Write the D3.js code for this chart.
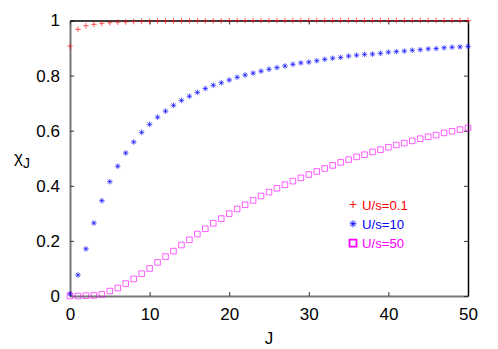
<html>
	<head>
		<meta charset="utf-8">
		<title>chi_J</title>
		<style>
			body { margin: 0; background: #fff; }
			text { font-family: "Liberation Sans", Arial, sans-serif; }
		</style>
	</head>
	<body>
		<div id="chart"></div>
		<script src="https://cdn.jsdelivr.net/npm/d3@7"></script>
		<script>
			var J = [0,1,2,3,4,5,6,7,8,9,10,11,12,13,14,15,16,17,18,19,20,
				21,22,23,24,25,26,27,28,29,30,31,32,33,34,35,36,37,38,39,40,
				41,42,43,44,45,46,47,48,49,50];

			var chiU01 = [0.907,0.968,0.981,0.986,0.990,0.992,0.994,0.995,0.996,0.997,
				0.997,0.998,0.998,0.998,0.999,0.999,0.999,0.999,0.999,0.999,
				1,1,1,1,1,1,1,1,1,1,1,1,1,1,1,1,1,1,1,1,1,1,1,1,1,1,1,1,1,1,1];

			var chiU10 = [0.008,0.076,0.171,0.265,0.346,0.415,0.471,0.519,0.559,0.594,0.623,
				0.649,0.671,0.692,0.710,0.725,0.739,0.753,0.765,0.774,0.784,
				0.794,0.802,0.809,0.816,0.823,0.829,0.835,0.841,0.846,0.849,
				0.854,0.859,0.863,0.866,0.871,0.874,0.877,0.878,0.881,0.885,
				0.887,0.889,0.892,0.894,0.897,0.898,0.901,0.903,0.904,0.906];

			var chiU50 = [0.000,0.000,0.001,0.002,0.006,0.018,0.029,0.045,0.062,0.081,0.100,
				0.122,0.143,0.163,0.185,0.204,0.225,0.244,0.264,0.281,0.299,
				0.316,0.331,0.347,0.363,0.377,0.391,0.404,0.417,0.429,0.441,
				0.452,0.463,0.474,0.485,0.495,0.505,0.513,0.523,0.531,0.540,
				0.548,0.555,0.563,0.571,0.578,0.584,0.592,0.598,0.604,0.610];

			var seriesNames = ["U/s=0.1", "U/s=10", "U/s=50"];
			var xTicks = [0, 10, 20, 30, 40, 50];
			var yTicks = [0, 0.2, 0.4, 0.6, 0.8, 1];

			var w = 498, h = 349;
			var pL = 70, pR = 468, pT = 20.5, pB = 296;

			var x = d3.scaleLinear().domain([0, 50]).range([pL, pR]);
			var y = d3.scaleLinear().domain([0, 1]).range([pB, pT]);

			var svg = d3.select("#chart").append("svg")
				.attr("width", w)
				.attr("height", h);

			// axes with inward ticks on all four sides
			var fmt = d3.format("~g");
			var gl = svg.append("g").attr("transform", "translate(" + pL + ",0)")
				.call(d3.axisLeft(y).tickValues(yTicks).tickFormat(fmt).tickSizeInner(-4).tickSizeOuter(0).tickPadding(10));
			var gb = svg.append("g").attr("transform", "translate(0," + pB + ")")
				.call(d3.axisBottom(x).tickValues(xTicks).tickFormat(fmt).tickSizeInner(-4).tickSizeOuter(0).tickPadding(12));
			var gr = svg.append("g").attr("transform", "translate(" + pR + ",0)")
				.call(d3.axisRight(y).tickValues(yTicks).tickFormat("").tickSizeInner(-4).tickSizeOuter(0));
			var gt = svg.append("g").attr("transform", "translate(0," + pT + ")")
				.call(d3.axisTop(x).tickValues(xTicks).tickFormat("").tickSizeInner(-4).tickSizeOuter(0));

			[gl, gb].forEach(function(g){
				g.select(".domain").attr("stroke", "#777").attr("stroke-width", 2);
				g.selectAll(".tick line").attr("stroke", "#333");
				g.selectAll("text").attr("font-size", 17).attr("fill", "#000")
					.attr("font-family", "Liberation Sans, Arial, sans-serif");
			});
			[gr, gt].forEach(function(g){
				g.select(".domain").attr("stroke", "#000").attr("stroke-width", 1.5);
				g.selectAll(".tick line").attr("stroke", "#333");
			});

			// axis titles
			svg.append("text")
				.attr("x", (pL + pR) / 2)
				.attr("y", 344)
				.attr("text-anchor", "middle")
				.attr("font-size", 17)
				.text("J");

			var yl = svg.append("text")
				.attr("x", 14)
				.attr("y", 163)
				.attr("font-size", 17);
			yl.append("tspan").text("χ");
			yl.append("tspan").attr("dy", 5).attr("font-size", 14).text("J");

			// point markers
			function plus(s) {
				return "M" + (-s) + ",0H" + s + "M0," + (-s) + "V" + s;
			}
			function star(s) {
				var d = s * 0.72;
				return plus(s) + "M" + (-d) + "," + (-d) + "L" + d + "," + d +
					"M" + (-d) + "," + d + "L" + d + "," + (-d);
			}
			function square(s) {
				return "M" + (-s) + "," + (-s) + "H" + s + "V" + s + "H" + (-s) + "Z";
			}

			var series = [
				{ name: seriesNames[0], values: chiU01, color: "#ff0000", shape: plus },
				{ name: seriesNames[1], values: chiU10, color: "#0000ff", shape: star },
				{ name: seriesNames[2], values: chiU50, color: "#ff00ff", shape: square }
			];

			series.forEach(function(s){
				svg.append("g").selectAll("path")
					.data(J)
					.enter()
					.append("path")
					.attr("d", s.shape(2.8))
					.attr("transform", function(d, i){
						return "translate(" + x(d) + "," + y(s.values[i]) + ")";
					})
					.attr("fill", "none")
					.attr("stroke", s.color)
					.attr("stroke-opacity", 0.8)
					.attr("stroke-width", 0.8);
			});

			// legend
			var leg = svg.append("g").selectAll("g")
				.data(series)
				.enter()
				.append("g")
				.attr("transform", function(d, i){
					return "translate(353," + (204.5 + i * 19.3) + ")";
				});
			leg.append("path")
				.attr("d", function(d){ return d.shape(3.5); })
				.attr("fill", "none")
				.attr("stroke", function(d){ return d.color; })
				.attr("stroke-width", function(d, i){ return i == 2 ? 1.8 : 0.9; });
			leg.append("text")
				.attr("x", 9)
				.attr("y", 5)
				.attr("font-size", 13.2)
				.attr("fill", function(d){ return d.color; })
				.text(function(d){ return d.name; });
		</script>
	</body>
</html>
